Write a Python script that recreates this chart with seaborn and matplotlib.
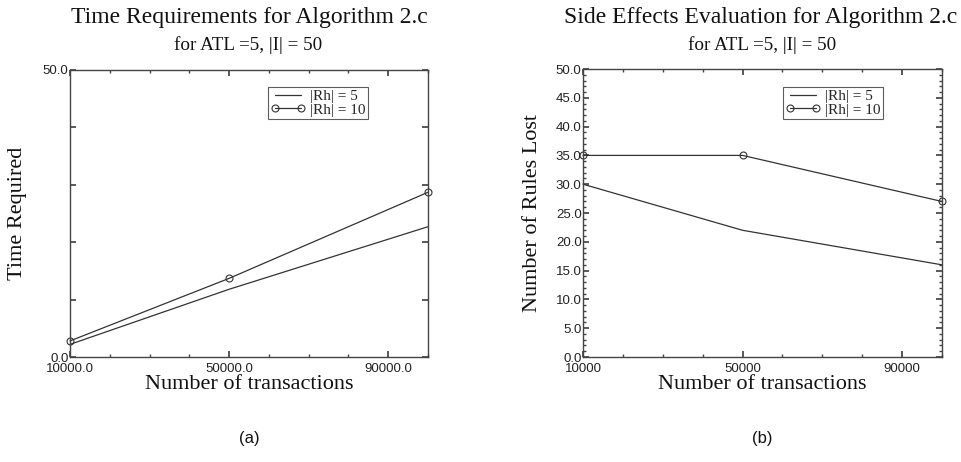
import numpy as np
import pandas as pd
import matplotlib
matplotlib.use("Agg")
import matplotlib.pyplot as plt
from matplotlib.ticker import MultipleLocator, FixedLocator, FormatStrFormatter
import seaborn as sns

# --- data ---
transactions = [10000, 50000, 100000]
series_names = ["|Rh| = 5", "|Rh| = 10"]

time_rh5 = [2.2, 11.8, 22.7]
time_rh10 = [2.8, 13.7, 28.7]

lost_rh5 = [30.0, 22.0, 16.0]
lost_rh10 = [35.0, 35.0, 27.0]

sns.set_theme(style="white")
plt.rcParams['font.family'] = ['Liberation Sans', 'DejaVu Sans']

SERIF = ['Liberation Serif', 'DejaVu Serif']
LINE = '#333333'

W, H = 961, 462
fig = plt.figure(figsize=(W / 100, H / 100), dpi=100)
fig.patch.set_facecolor('white')


def frac(x0, y_top, x1, y_bot):
    return [x0 / W, 1 - y_bot / H, (x1 - x0) / W, (y_bot - y_top) / H]


def draw_panel(ax, rh5, rh10, leg_anchor, ylab_x):
    df = pd.DataFrame({
        "x": transactions * 2,
        "y": list(rh5) + list(rh10),
        "series": [series_names[0]] * 3 + [series_names[1]] * 3,
    })
    sns.lineplot(data=df[df.series == series_names[0]], x="x", y="y", ax=ax,
                 color=LINE, lw=0.9, label=series_names[0], clip_on=False)
    sns.lineplot(data=df[df.series == series_names[1]], x="x", y="y", ax=ax,
                 color=LINE, lw=0.9, marker='o', markersize=5, markerfacecolor='none',
                 markeredgecolor=LINE, markeredgewidth=0.8, label=series_names[1], clip_on=False)
    ax.set_xlim(10000, 100000)
    ax.set_ylim(0, 50)
    for s in ax.spines.values():
        s.set_color('#444444')
        s.set_linewidth(1.0)
    ax.tick_params(which='both', direction='in', top=True, right=True, bottom=True, left=True,
                   color='#444444', labelsize=9.5, labelcolor='#222222')
    ax.tick_params(axis='y', pad=1)
    ax.tick_params(axis='x', pad=4)
    ax.tick_params(which='major', length=4)
    ax.tick_params(which='minor', length=2)
    ax.xaxis.set_major_locator(FixedLocator([10000, 50000, 90000]))
    ax.xaxis.set_minor_locator(MultipleLocator(10000))
    ax.set_xlabel("Number of transactions", fontsize=16, family=SERIF, color='#111111', labelpad=0)
    ax.yaxis.set_label_coords(ylab_x, 0.5)
    leg = ax.legend(loc='upper left', bbox_to_anchor=leg_anchor, frameon=True, fancybox=False,
                    prop={'family': SERIF, 'size': 11}, numpoints=2, handlelength=2.3,
                    borderpad=0.15, labelspacing=0.0, handletextpad=0.3, borderaxespad=0)
    leg.get_frame().set_edgecolor('#333333')
    leg.get_frame().set_linewidth(0.8)
    return ax


# (a) time requirements
ax1 = fig.add_axes(frac(70, 70, 428, 357))
draw_panel(ax1, time_rh5, time_rh10, (0.553, 0.941), -0.12)
ax1.set_xticklabels(["10000.0", "50000.0", "90000.0"])
ax1.yaxis.set_major_locator(FixedLocator([0, 10, 20, 30, 40, 50]))
ax1.set_yticklabels(["0.0", "", "", "", "", "50.0"])
ax1.set_ylabel("Time Required", fontsize=16, family=SERIF, color='#111111')

# (b) side effects
ax2 = fig.add_axes(frac(583, 69, 942, 357))
draw_panel(ax2, lost_rh5, lost_rh10, (0.557, 0.9375), -0.113)
ax2.set_xticklabels(["10000", "50000", "90000"])
ax2.yaxis.set_major_locator(FixedLocator(np.arange(0, 50.1, 5)))
ax2.yaxis.set_minor_locator(MultipleLocator(1))
ax2.yaxis.set_major_formatter(FormatStrFormatter('%.1f'))
ax2.set_ylabel("Number of Rules Lost", fontsize=16, family=SERIF, color='#111111')

# titles
fig.text(249 / W, 1 - 18 / H, "Time Requirements for Algorithm 2.c", ha='center', va='center',
         fontsize=17, family=SERIF, color='#111111')
fig.text(248 / W, 1 - 45 / H, "for ATL =5, |I| = 50", ha='center', va='center',
         fontsize=13.8, family=SERIF, color='#111111')
fig.text(761 / W, 1 - 18 / H, "Side Effects Evaluation for Algorithm 2.c", ha='center', va='center',
         fontsize=17, family=SERIF, color='#111111')
fig.text(762 / W, 1 - 45 / H, "for ATL =5, |I| = 50", ha='center', va='center',
         fontsize=13.8, family=SERIF, color='#111111')

fig.text(249 / W, 1 - 438 / H, "(a)", ha='center', va='center', fontsize=12, color='#111111')
fig.text(762 / W, 1 - 438 / H, "(b)", ha='center', va='center', fontsize=12, color='#111111')

fig.savefig("out.png", dpi=100, facecolor='white')
